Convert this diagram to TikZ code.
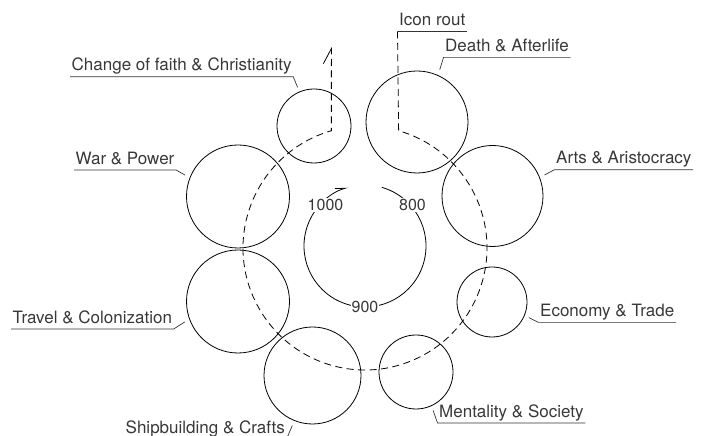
\documentclass[tikz,border=0pt]{standalone}
\usepackage{fontspec}
\setmainfont{TeX Gyre Heros}
\usetikzlibrary{arrows.meta,calc}
\begin{document}
\begin{tikzpicture}[x=1pt,y=1pt,
  theme/.style={circle,draw=black,line width=0.8pt,inner sep=0pt,minimum size=#1},
  caption/.style={anchor=base west,inner xsep=1.5pt,inner ysep=1pt,
    text height=12.5pt,text depth=4.5pt,text=black!78,
    font=\fontsize{17}{20}\selectfont},
  leader/.style={draw=black!80,line width=0.7pt},
  route/.style={line width=0.8pt,dash pattern=on 7pt off 4.5pt,
    -{Straight Barb[left,length=15pt,width=16pt]}},
  timeline/.style={line width=0.8pt,
    -{Straight Barb[left,length=10pt,width=5pt]}},
  year/.style={fill=white,inner sep=1pt,text=black!78,
    font=\fontsize{16}{19}\selectfont}
]
\useasboundingbox (0,0) rectangle (709,436);
\clip (0,0) rectangle (709,436);

% centres of the route ring and of the century dial
\coordinate (hub)  at (365,188);
\coordinate (dial) at (365,190);

% theme circles
\node[theme=74]  (faith)  at (314,310)   {};
\node[theme=102] (death)  at (417,314)   {};
\node[theme=101] (arts)   at (492.5,240) {};
\node[theme=70]  (econ)   at (492,134)   {};
\node[theme=74]  (ment)   at (416,64)    {};
\node[theme=97]  (ship)   at (312.5,60.5){};
\node[theme=103] (travel) at (238,134.5) {};
\node[theme=103] (war)    at (238,239.5) {};

% captions
\node[caption] (l-faith)  at (70,365)     {Change of faith \& Christianity};
\node[caption] (l-war)    at (74,271.7)   {War \& Power};
\node[caption] (l-travel) at (11,112.7)   {Travel \& Colonization};
\node[caption] (l-ship)   at (124,2.5)    {Shipbuilding \& Crafts};
\node[caption] (l-ment)   at (437.5,18.7) {Mentality \& Society};
\node[caption] (l-econ)   at (538.5,119.3){Economy \& Trade};
\node[caption] (l-arts)   at (554.5,272)  {Arts \& Aristocracy};
\node[caption] (l-death)  at (443.5,384.3){Death \& Afterlife};
\node[caption] (l-icon)   at (397.5,410.3){Icon rout};

% where each leader meets its circle
\coordinate (e-faith)  at ($(faith)+(113:42)$);
\coordinate (e-war)    at ($(war)+(158:57)$);
\coordinate (e-travel) at ($(travel)+(201:57)$);
\coordinate (e-ship)   at ($(ship)+(248:54)$);
\coordinate (e-ment)   at ($(ment)+(-66:42)$);
\coordinate (e-econ)   at ($(econ)+(-23:40)$);
\coordinate (e-arts)   at ($(arts)+(22:56)$);
\coordinate (e-death)  at ($(death)+(66.5:57)$);

% underlines and leaders
\draw[leader] (l-faith.south west)  -- (l-faith.south east)  -- (e-faith);
\draw[leader] (l-war.south west)    -- (l-war.south east)    -- (e-war);
\draw[leader] (l-travel.south west) -- (l-travel.south east) -- (e-travel);
\draw[leader] (l-ship.south west)   -- (l-ship.south east)   -- (e-ship);
\draw[leader] (l-ment.south east)   -- (l-ment.south west)   -- (e-ment);
\draw[leader] (l-econ.south east)   -- (l-econ.south west)   -- (e-econ);
\draw[leader] (l-arts.south east)   -- (l-arts.south west)   -- (e-arts);
\draw[leader] (l-death.south east)  -- (l-death.south west)  -- (e-death);
\draw[leader] (l-icon.south east)   -- (l-icon.south west);

% the icon route around the themes
\coordinate (route-end) at (331.4,389);
\draw[route] (l-icon.south west) -- ($(hub)+(74:122)$)
  arc[start angle=74,end angle=-254,radius=122] -- (route-end);

% century dial
\draw[timeline] ($(dial)+(74:61)$) arc[start angle=74,end angle=-254,radius=61];
\node[year] (y800)  at (412.5,231) {800};
\node[year] (y900)  at (365,129)   {900};
\node[year] (y1000) at (325.5,231) {1000};
\end{tikzpicture}
\end{document}
